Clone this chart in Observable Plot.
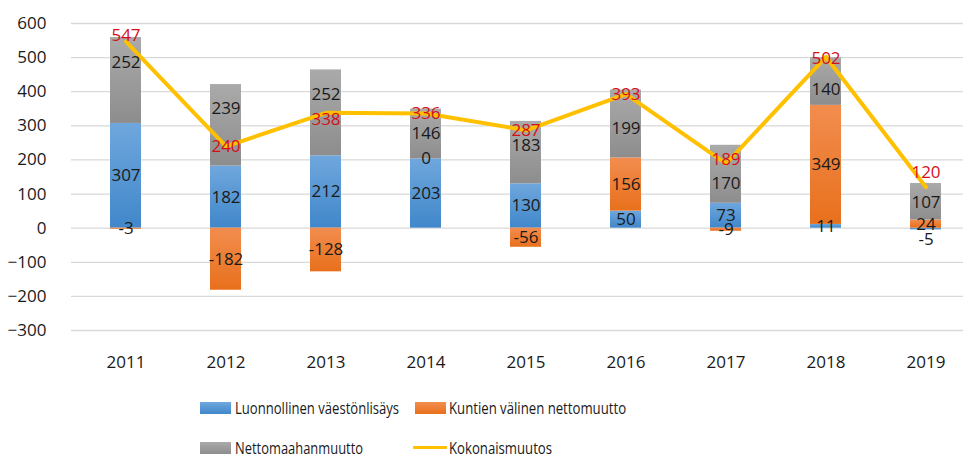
<!DOCTYPE html>
<html>
<head>
<meta charset="utf-8">
<script src="https://cdn.jsdelivr.net/npm/d3@7"></script>
<script src="https://cdn.jsdelivr.net/npm/@observablehq/plot@0.6"></script>
<style>
  body { margin: 0; background: #fff; }
  #wrap { position: relative; width: 963px; height: 458px; font-family: "Open Sans", sans-serif; color: #1a1a1a; }
  .leg { position: absolute; height: 16px; line-height: 16px; font-size: 16px; white-space: nowrap; }
  .sw { position: absolute; left: 0; top: 2px; width: 31px; height: 12px; }
  .ln { position: absolute; left: 0; top: 6px; width: 34px; height: 3px; border-radius: 1px; }
  .lbl { position: absolute; top: 0; transform-origin: left center; }
</style>
</head>
<body>
<div id="wrap"><div id="chart"></div></div>
<script>
// ---- data ----
const years = ["2011", "2012", "2013", "2014", "2015", "2016", "2017", "2018", "2019"];
const seriesNames = ["Luonnollinen väestönlisäys", "Kuntien välinen nettomuutto", "Nettomaahanmuutto"];
const naturalIncrease = [307, 182, 212, 203, 130, 50, 73, 11, -5];
const municipalMigration = [-3, -182, -128, 0, -56, 156, -9, 349, 24];
const netImmigration = [252, 239, 252, 146, 183, 199, 170, 140, 107];
const totalName = "Kokonaismuutos";
const totalChange = [547, 240, 338, 336, 287, 393, 189, 502, 120];
const yTicks = [-300, -200, -100, 0, 100, 200, 300, 400, 500, 600];

// ---- layout: manual label nudges as in the original (value units, + = up) ----
const labelNudge = [
  [0, 0, 0, 0, 0, 0, 0, 0, -32],
  [0, 0, 0, 0, 0, 0, 0, 0, 0],
  [53, 50, 55, 0, 20, -12, -26, -25, -3]
];
const totalLabelNudge = [18, 0, -20, 0, 0, 0, 11, -6, 43];

// ---- styles ----
const grads = [
  ["gBlue", "#6fa7dd", "#4187ca"],
  ["gOrange", "#f28d4f", "#e8701c"],
  ["gGray", "#aaaaaa", "#8d8d8d"]
];
const lineColor = "#ffc000";
const totalLabelColor = "#d40f1a";
const textColor = "#1a1a1a";

// ---- build tables ----
const seriesValues = [naturalIncrease, municipalMigration, netImmigration];
const rows = [];
const labels = [];
years.forEach((y, yi) => {
  let pos = 0, neg = 0;
  seriesNames.forEach((s, si) => {
    const v = seriesValues[si][yi];
    let y1, y2;
    if (v >= 0) { y1 = pos; y2 = pos + v; pos = y2; } else { y1 = neg; y2 = neg + v; neg = y2; }
    labels.push({year: y, series: s, value: v, mid: (y1 + y2) / 2 + labelNudge[si][yi]});
  });
});
seriesNames.forEach((s, si) => years.forEach((y, yi) => rows.push({year: y, series: s, value: seriesValues[si][yi]})));
const totals = years.map((y, i) => ({year: y, value: totalChange[i], ly: totalChange[i] + totalLabelNudge[i]}));

const svg = Plot.plot({
  width: 963,
  height: 385,
  marginLeft: 71,
  marginRight: -16,
  marginTop: 23,
  marginBottom: 55,
  style: {fontFamily: "Open Sans, sans-serif", fontSize: "17px", color: textColor, background: "#fff"},
  x: {domain: years, paddingInner: 0.69, paddingOuter: 0.345, tickSize: 0, tickPadding: 25, label: null},
  y: {domain: [-300, 600], ticks: yTicks, tickSize: 0, tickPadding: 25, label: null},
  color: {domain: seriesNames, range: grads.map(g => `url(#${g[0]})`)},
  marks: [
    Plot.ruleY(yTicks, {stroke: "#d9d9d9", strokeWidth: 1.3}),
    Plot.barY(rows, Plot.stackY({x: "year", y: "value", fill: "series"})),
    Plot.lineY(totals, {x: "year", y: "value", stroke: lineColor, strokeWidth: 4, strokeLinejoin: "round"}),
    Plot.text(labels, {x: "year", y: "mid", text: d => String(d.value), fill: textColor, fontSize: 17}),
    Plot.text(totals, {x: "year", y: "ly", text: d => String(d.value), fill: totalLabelColor, fontSize: 17})
  ]
});

// gradients
const defs = d3.select(svg).insert("defs", ":first-child");
for (const [id, top, bot] of grads) {
  const g = defs.append("linearGradient").attr("id", id).attr("x1", 0).attr("y1", 0).attr("x2", 0).attr("y2", 1);
  g.append("stop").attr("offset", "0%").attr("stop-color", top);
  g.append("stop").attr("offset", "100%").attr("stop-color", bot);
}
document.getElementById("chart").appendChild(svg);

// ---- legend (condensed text fitted to the original widths) ----
const wrap = document.getElementById("wrap");
const ctx = document.createElement("canvas").getContext("2d");
ctx.font = "16px 'Open Sans'";
const legendItems = [
  {label: seriesNames[0], kind: "sw", color: "linear-gradient(#6fa7dd, #4187ca)", left: 200, top: 408, tx: 35, w: 164},
  {label: seriesNames[1], kind: "sw", color: "linear-gradient(#f28d4f, #e8701c)", left: 415, top: 408, tx: 34, w: 177},
  {label: seriesNames[2], kind: "sw", color: "linear-gradient(#aaaaaa, #8d8d8d)", left: 200, top: 448, tx: 35, w: 128},
  {label: totalName, kind: "ln", color: lineColor, left: 413, top: 448, tx: 36, w: 103}
];
for (const it of legendItems) {
  const d = document.createElement("div");
  d.className = "leg";
  d.style.left = it.left + "px";
  d.style.top = (it.top - 8) + "px";
  const s = document.createElement("span");
  s.className = it.kind;
  s.style.background = it.color;
  const t = document.createElement("span");
  t.className = "lbl";
  t.style.left = it.tx + "px";
  t.textContent = it.label;
  const nat = ctx.measureText(it.label).width;
  t.style.transform = `scaleX(${Math.min(1, it.w / nat).toFixed(3)})`;
  d.appendChild(s); d.appendChild(t);
  wrap.appendChild(d);
}
</script>
</body>
</html>
